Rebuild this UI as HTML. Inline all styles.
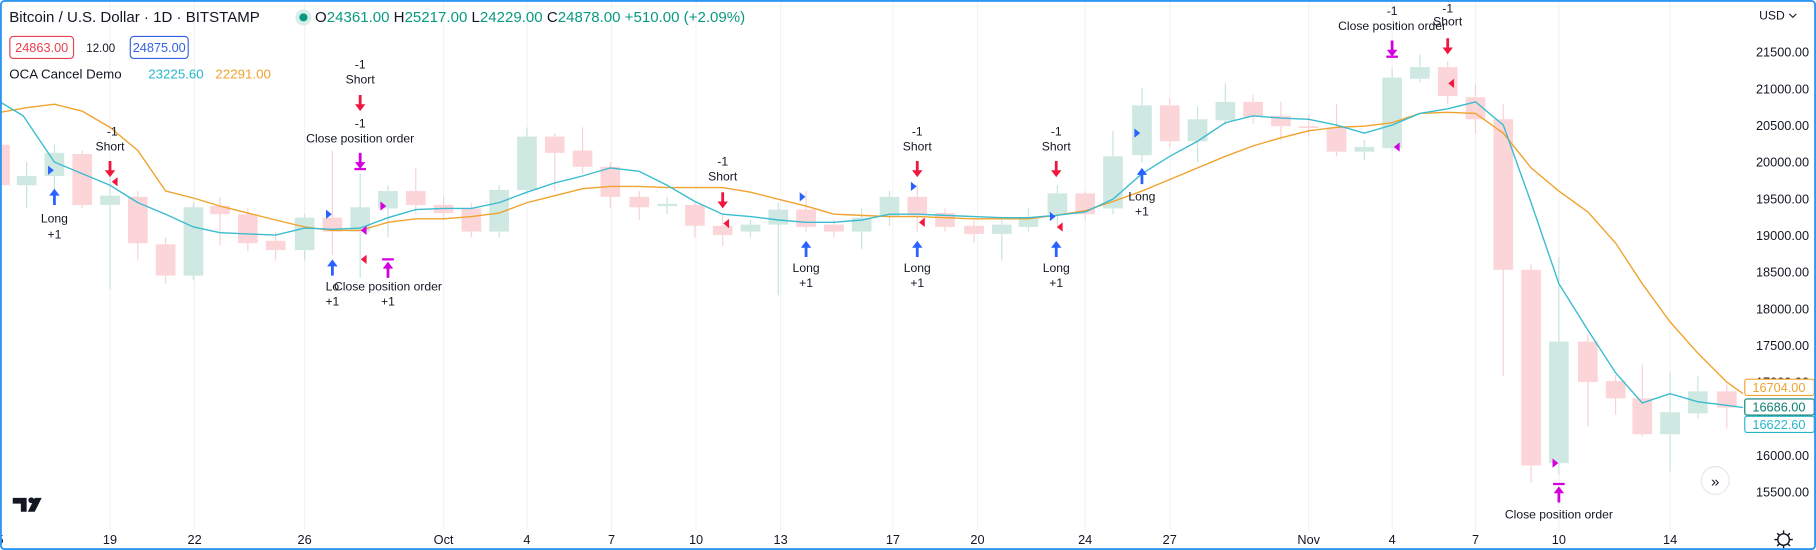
<!DOCTYPE html>
<html><head><meta charset="utf-8"><style>
html,body{margin:0;padding:0;background:#fff;}
svg{display:block;}
text{font-family:"Liberation Sans",sans-serif;}
</style></head><body>
<svg id="s" width="1816" height="550" viewBox="0 0 1568 475" preserveAspectRatio="none">
<rect x="0" y="0" width="1568" height="475" fill="#fff"/>
<g id="grid" stroke="#f2f3f5" stroke-width="1"></g>
<g id="candles"></g>
<polyline id="orange" fill="none" stroke="#f0a32e" stroke-width="1.2"/>
<polyline id="cyan" fill="none" stroke="#3bbccf" stroke-width="1.2"/>
<g id="marks"></g>
<g font-size="10.5" fill="#131722" text-anchor="middle">
<text x="97" y="117">-1</text><text x="95" y="130">Short</text>
<text x="47" y="192">Long</text><text x="47" y="206">+1</text>
<text x="311" y="59">-1</text><text x="311" y="72">Short</text>
<text x="311" y="110">-1</text><text x="311" y="123">Close position order</text>
<text x="287" y="251">Lo</text><text x="335" y="251">Close position order</text>
<text x="287" y="264">+1</text><text x="335" y="264">+1</text>
<text x="624" y="143">-1</text><text x="624" y="156">Short</text>
<text x="696" y="235">Long</text><text x="696" y="248">+1</text>
<text x="792" y="117">-1</text><text x="792" y="130">Short</text>
<text x="792" y="235">Long</text><text x="792" y="248">+1</text>
<text x="912" y="117">-1</text><text x="912" y="130">Short</text>
<text x="912" y="235">Long</text><text x="912" y="248">+1</text>
<text x="986" y="173">Long</text><text x="986" y="186">+1</text>
<text x="1202" y="13">-1</text><text x="1202" y="26">Close position order</text>
<text x="1250" y="11">-1</text><text x="1250" y="22">Short</text>
<text x="1346" y="448">Close position order</text>
</g>
<!-- header -->
<text x="8" y="19" font-size="13" fill="#131722">Bitcoin / U.S. Dollar · 1D · BITSTAMP</text>
<circle cx="262" cy="15" r="7" fill="#d6efe9"/><circle cx="262" cy="15" r="3.5" fill="#089981"/>
<text x="272" y="19" font-size="13" fill="#089981"><tspan fill="#131722">O</tspan>24361.00 <tspan fill="#131722">H</tspan>25217.00 <tspan fill="#131722">L</tspan>24229.00 <tspan fill="#131722">C</tspan>24878.00 +510.00 (+2.09%)</text>
<rect x="8.5" y="31.5" width="55" height="19" rx="3" fill="#fff" stroke="#e8414f"/>
<text x="36" y="45" font-size="11" fill="#e8414f" text-anchor="middle">24863.00</text>
<text x="87" y="45" font-size="10" fill="#131722" text-anchor="middle">12.00</text>
<rect x="112.5" y="31.5" width="50" height="19" rx="3" fill="#fff" stroke="#3461e0"/>
<text x="137.5" y="45" font-size="11" fill="#3461e0" text-anchor="middle">24875.00</text>
<text x="8" y="68" font-size="11.5" fill="#131722">OCA Cancel Demo</text>
<text x="128" y="68" font-size="11.5" fill="#27b6c9">23225.60</text>
<text x="186" y="68" font-size="11.5" fill="#f0a32e">22291.00</text>
<!-- axis -->
<g id="paxis" font-size="11" fill="#131722" text-anchor="end"></g>
<text x="1530" y="17" font-size="10.5" fill="#131722" text-anchor="middle">USD</text>
<path d="M1545 12 l3 3 l3 -3" fill="none" stroke="#131722" stroke-width="1"/>
<rect x="1506.5" y="327.5" width="60" height="14" rx="2" fill="#fff" stroke="#f0a32e"/>
<text x="1536" y="338.5" font-size="11" fill="#f0a32e" text-anchor="middle">16704.00</text>
<rect x="1506.5" y="344.5" width="60" height="14" rx="2" fill="#fff" stroke="#0b7e6f"/>
<text x="1536" y="355.5" font-size="11" fill="#0b7e6f" text-anchor="middle">16686.00</text>
<rect x="1506.5" y="359.5" width="60" height="14" rx="2" fill="#fff" stroke="#27b6c9"/>
<text x="1536" y="370.5" font-size="11" fill="#27b6c9" text-anchor="middle">16622.60</text>
<g font-size="11" fill="#131722" text-anchor="middle">
<text x="0" y="470">5</text><text x="95" y="470">19</text><text x="168" y="470">22</text><text x="263" y="470">26</text>
<text x="383" y="470">Oct</text><text x="455" y="470">4</text><text x="528" y="470">7</text><text x="601" y="470">10</text>
<text x="674" y="470">13</text><text x="771" y="470">17</text><text x="844" y="470">20</text><text x="937" y="470">24</text>
<text x="1010" y="470">27</text><text x="1130" y="470">Nov</text><text x="1202" y="470">4</text><text x="1274" y="470">7</text>
<text x="1346" y="470">10</text><text x="1442" y="470">14</text>
</g>
<circle cx="1540" cy="466" r="5" fill="none" stroke="#131722" stroke-width="1.2"/>
<path d="M1540 458v3M1540 471v3M1532 466h3M1545 466h3M1534.5 460.5l2 2M1543.5 469.5l2 2M1534.5 471.5l2-2M1543.5 462.5l2-2" stroke="#131722" stroke-width="1.2"/>
<!-- TV logo -->
<path d="M11 430h12v12h-5v-7h-7z" fill="#131722"/><circle cx="27" cy="432" r="2.5" fill="#131722"/><path d="M30 430h6l-6 12h-6z" fill="#131722"/>
<circle cx="1481" cy="415" r="12" fill="#fff" stroke="#e6e7ea"/>
<text x="1481" y="420" font-size="13" fill="#131722" text-anchor="middle">»</text>
<rect x="0.8" y="0.8" width="1566.4" height="473.4" rx="3" fill="none" stroke="#2f97f0" stroke-width="1.6"/>
</svg>
<script>
var NS="http://www.w3.org/2000/svg";
function el(p,t,a){var e=document.createElementNS(NS,t);for(var k in a)e.setAttribute(k,a[k]);document.getElementById(p).appendChild(e);return e;}
[95,168,263,383,455,528,601,674,771,844,937,1010,1130,1202,1274,1346,1442].forEach(function(x){el("grid","line",{x1:x,y1:0,x2:x,y2:458});});
var C=[[0,'r',125,160,118,165],[23,'g',152,160,140,180],[47,'g',132,152,125,165],[71,'r',133,177,130,180],[95,'g',169,177,150,250],[119,'r',170,210,165,225],[143,'r',211,238,205,245],[167,'g',179,238,175,242],[190,'r',178,185,170,212],[214,'r',185,210,180,217],[238,'r',208,216,200,225],[263,'g',188,216,185,225],[287,'r',188,200,130,220],[311,'g',179,200,150,240],[335,'g',165,180,160,205],[359,'r',165,177,145,185],[383,'r',177,184,170,190],[407,'r',180,200,175,205],[431,'g',164,200,160,205],[455,'g',118,164,110,168],[479,'r',118,132,115,165],[503,'r',130,144,110,150],[527,'r',144,170,140,180],[552,'r',170,179,165,190],[576,'g',176,178,170,185],[600,'r',177,195,175,205],[624,'r',195,203,185,212],[648,'g',194,200,190,205],[672,'g',181,194,175,255],[696,'r',181,196,165,200],[720,'r',194,200,190,205],[744,'g',188,200,180,215],[768,'g',170,187,165,195],[792,'r',170,186,160,200],[816,'r',184,196,180,200],[841,'r',195,202,190,210],[865,'g',194,202,190,225],[888,'g',188,196,180,200],[913,'g',167,185,160,195],[937,'r',167,185,165,190],[961,'g',135,180,113,185],[986,'g',91,134,76,140],[1010,'r',91,122,85,127],[1034,'g',103,122,92,140],[1058,'g',88,104,72,108],[1082,'r',88,101,82,107],[1106,'r',100,109,88,121],[1130,'r',109,110,99,118],[1154,'r',110,131,90,135],[1178,'g',127,131,121,138],[1202,'g',67,128,59,130],[1226,'g',58,68,47,71],[1250,'r',58,83,53,90],[1274,'r',84,103,73,115],[1298,'r',103,233,90,325],[1322,'r',233,402,228,417],[1346,'g',295,400,222,410],[1371,'r',295,330,289,368],[1395,'r',329,344,324,358],[1418,'r',344,375,315,377],[1442,'g',356,375,322,407],[1466,'g',338,357,325,361],[1491,'r',338,352,332,370]];
C.forEach(function(c){var col=c[1]=='r'?'#fcd5d9':'#cfe9e2',wc=c[1]=='r'?'#f8d0d4':'#c6e4dc';
el("candles","line",{x1:c[0],x2:c[0],y1:c[4],y2:c[5],stroke:wc,"stroke-width":1});
el("candles","rect",{x:c[0]-8.5,y:c[2],width:17,height:Math.max(1.5,c[3]-c[2]),fill:col});});
var cy="0,88 20,100 47,140 95,160 119,175 143,185 167,196 190,201 214,202 238,203 263,197 287,198 311,197 335,188 359,181 383,180 407,180 431,175 455,166 479,158 503,152 527,145 552,148 576,160 600,174 624,185 648,187 672,190 696,192 720,192 744,190 768,185 792,185 816,186 841,187 865,188 888,188 912,186 937,183 961,172 986,150 1010,135 1034,122 1058,106 1082,100 1106,102 1130,103 1154,108 1178,115 1202,108 1226,98 1250,94 1274,88 1298,108 1322,175 1346,245 1371,285 1395,322 1418,348 1442,340 1466,347 1491,350 1505,352";
var or="0,97 23,93 47,90 71,96 95,110 119,130 143,165 167,171 190,178 214,184 238,190 263,196 287,199 311,199 335,192 359,189 383,189 407,187 431,184 455,175 479,169 503,163 527,161 552,161 576,162 600,162 624,162 648,166 672,172 696,178 720,185 744,186 768,187 792,187 816,188 841,189 865,189 888,189 912,186 937,182 961,174 986,165 1010,155 1034,145 1058,135 1082,126 1106,119 1130,113 1154,110 1178,109 1202,106 1226,98 1250,97 1274,98 1298,115 1322,145 1346,165 1371,183 1395,210 1418,245 1442,278 1466,305 1491,330 1505,340";
document.getElementById("cyan").setAttribute("points",cy);document.getElementById("orange").setAttribute("points",or);
var RED="#f0173f",BLUE="#2962ff",MAG="#d500e0";
function down(x,y,c,bar){el("marks","path",{d:"M"+(x-1.2)+" "+y+"h2.4v8h3.3l-4.5 6l-4.5-6h3.3z",fill:c});if(bar)el("marks","rect",{x:x-5,y:y+13,width:10,height:2,fill:c});}
function up(x,y,c,bar){el("marks","path",{d:"M"+x+" "+y+"l4.5 6h-3.3v8h-2.4v-8h-3.3z",fill:c});if(bar)el("marks","rect",{x:x-5,y:y-3,width:10,height:2,fill:c});}
function tr(x,y,c){el("marks","path",{d:"M"+(x-2.5)+" "+(y-4)+"l5 4l-5 4z",fill:c});}
function tl(x,y,c){el("marks","path",{d:"M"+(x+2.5)+" "+(y-4)+"l-5 4l5 4z",fill:c});}
down(95,139,RED);up(47,163,BLUE);tr(44,147,BLUE);tl(99,157,RED);
down(311,82,RED);down(311,132,MAG,1);up(287,224,BLUE);up(335,226,MAG,1);tr(284,185,BLUE);tl(314,199,MAG);tl(314,224,RED);tr(331,178,MAG);
down(624,166,RED);tl(627,193,RED);up(696,208,BLUE);tr(693,170,BLUE);
down(792,139,RED);tr(789,161,BLUE);tl(796,192,RED);up(792,208,BLUE);
down(912,139,RED);tr(909,187,BLUE);tl(915,196,RED);up(912,208,BLUE);
up(986,145,BLUE);tr(982,115,BLUE);
down(1202,35,MAG,1);tl(1206,127,MAG);down(1250,33,RED);tl(1253,72,RED);
tr(1343,400,MAG);up(1346,420,MAG,1);
for(var i=0;i<13;i++){var p=21500-500*i;var t=el("paxis","text",{x:1562,y:45+31.65*i+4});t.textContent=p+".00";}
</script>
</body></html>
